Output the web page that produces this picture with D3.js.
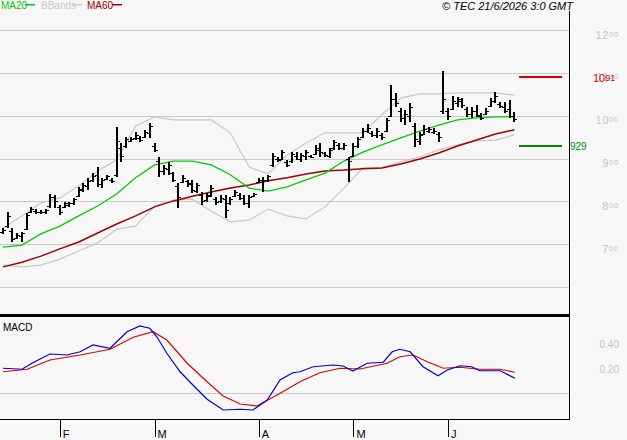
<!DOCTYPE html>
<html>
<head>
<meta charset="utf-8">
<script src="https://cdn.jsdelivr.net/npm/d3@7"></script>
<style>
  body { margin: 0; background: #f7f7f7; }
  svg { display: block; font-family: "Liberation Sans", Arial, sans-serif; }
</style>
</head>
<body>
<div id="chart"></div>
<script>
// daily bars, one per trading day (index 0 = mid January)
const highs = [738,775,738,726,729,773,787,782,780,782,
  817,815,791,798,798,808,833,843,854,866,
  880,854,862,854,974,936,950,950,962,953,
  967,983,936,904,885,892,869,843,862,850,
  850,843,822,820,838,810,815,815,810,827,
  820,815,815,820,854,857,862,913,904,920,
  897,915,915,913,920,908,932,936,915,925,
  943,936,936,904,936,950,971,980,964,971,
  960,995,1072,1053,1018,1013,1030,983,962,978,
  974,971,962,1104,1018,1046,1044,1041,1020,1020,
  1025,1006,1018,1041,1055,1032,1032,1037,1009];
const lows = [724,738,705,712,705,733,773,770,770,770,
  784,784,768,784,787,791,810,822,827,845,
  834,831,850,843,857,892,925,939,943,939,
  948,948,915,857,862,862,845,784,843,834,
  820,820,792,799,810,792,796,761,792,810,
  803,792,784,810,843,822,845,880,892,897,
  880,890,897,892,897,901,908,904,904,901,
  920,920,920,845,904,925,948,960,950,948,
  943,962,997,1020,985,978,985,927,932,955,
  960,957,939,1004,990,1013,1020,1018,997,995,
  997,990,1002,1020,1030,1018,1006,995,985];
const opens = [728,742,730,715,720,735,776,778,774,775,
  788,810,786,787,792,795,812,826,835,850,
  862,840,853,850,862,925,930,942,948,948,
  950,960,930,895,870,875,865,835,845,848,
  842,825,815,802,815,805,800,805,795,812,
  815,808,795,812,845,845,850,885,900,900,
  892,893,905,898,905,905,910,920,912,905,
  925,932,925,900,905,930,950,965,960,955,
  955,965,1000,1040,1010,995,1000,975,940,958,
  965,962,958,1010,1010,1015,1030,1035,1015,1005,
  1010,1000,1005,1022,1035,1028,1020,1015,1000];
const closes = [732,765,712,722,725,768,782,775,776,779,
  810,800,775,795,796,805,828,838,848,860,
  840,850,858,847,940,905,945,946,955,944,
  962,975,920,870,878,885,850,810,855,840,
  826,838,800,812,832,798,808,780,805,822,
  808,797,810,818,850,850,858,905,896,915,
  885,910,900,908,915,903,925,915,908,920,
  938,925,932,895,930,945,965,972,955,965,
  950,990,1040,1030,995,1005,1020,945,955,970,
  968,965,950,1040,1000,1035,1038,1025,1005,1012,
  1002,995,1012,1035,1045,1022,1010,1000,992];

// price indicator lines, read every 4th bar
const lineIdx = [0,4,8,12,16,20,24,28,32,36,40,44,48,52,56,60,64,68,72,76,80,84,88,92,96,100,104,108];
const ma20 = [693,698,724,742,766,789,817,855,885,894,894,885,862,831,824,834,850,866,894,915,932,948,964,978,990,995,997,997];
const ma60 = [647,658,672,689,705,726,747,766,787,801,812,822,831,838,848,855,864,871,873,876,878,887,899,913,929,943,957,967];
const bbUpper = [738,766,796,808,836,871,897,976,997,990,990,990,960,880,864,908,936,960,960,960,1002,1041,1051,1051,1053,1053,1053,1048];
const bbLower = [651,647,651,665,684,703,735,742,789,803,805,777,752,756,782,766,759,787,831,878,878,892,904,920,932,941,943,955];

// MACD and signal, read at the bar positions where the line turns
const macdIdx = [0,4,6.3,9.9,13.5,16.3,19,22.6,26.2,28.9,31,32.5,34.6,37.4,40.1,43.1,46.5,50.1,52.8,55.8,58.5,61.2,62.7,65.5,69.7,71.8,73.9,76.9,80.3,82.2,83.8,86,88.7,91.9,93.8,96.5,99,100.7,105,108.1];
const macd = [0.198,0.19,0.242,0.312,0.304,0.33,0.384,0.358,0.49,0.536,0.518,0.45,0.318,0.17,0.064,-0.05,-0.136,-0.13,-0.136,-0.056,0.104,0.162,0.17,0.21,0.224,0.216,0.176,0.238,0.246,0.33,0.35,0.33,0.21,0.138,0.184,0.218,0.21,0.178,0.178,0.118];
const signalIdx = [0,5.1,9.9,16.3,22.6,27.5,31.7,34.6,38.9,43.1,46.5,50.1,53.6,57.9,62.7,66.9,71.2,75.4,81.1,83.8,86.6,89.6,93,96.5,100.7,105,108.1];
const signal = [0.17,0.19,0.264,0.304,0.35,0.446,0.49,0.424,0.238,0.09,-0.024,-0.088,-0.104,-0.016,0.09,0.162,0.198,0.192,0.238,0.29,0.304,0.25,0.198,0.206,0.19,0.19,0.166];

// axes
const gridValues = [600,700,800,900,1000,1100,1200];
const priceLabels = [700,800,900,1000,1100,1200];
const macdLabels = [0.2,0.4];
const monthIdx = [12,32,54,74,94];
const monthLabels = ["F","M","A","M","J"];

// resistance / support
const resistance = 1091;
const support = 929;

const W = 627, H = 440;
const plotRight = 569;

const svg = d3.select("#chart").append("svg").attr("width", W).attr("height", H);
svg.append("rect").attr("width", W).attr("height", H).attr("fill", "#f7f7f7");

const x = d3.scaleLinear().domain([0, 108]).range([3, 514.4]);
const y = d3.scaleLinear().domain([600, 1200]).range([287, 30]);
const ym = d3.scaleLinear().domain([0, 0.4]).range([393, 343]);

// price grid lines
const grid = svg.append("g")
  .call(d3.axisLeft(y).tickValues(gridValues).tickSize(-plotRight).tickFormat(""));
grid.select(".domain").remove();
grid.selectAll("line").attr("stroke", "#c8c8c8").attr("shape-rendering", "crispEdges");

// price labels on the right, last two digits smaller
const yAxis = svg.append("g").attr("transform", "translate(619,0)")
  .call(d3.axisRight(y).tickValues(priceLabels).tickSize(0));
yAxis.select(".domain").remove();
yAxis.selectAll("text").each(function (d) {
  const s = String(d);
  const t = d3.select(this).text("")
    .attr("x", 0).attr("dy", null).attr("y", 8)
    .attr("text-anchor", "end").attr("fill", "#c4c4c4")
    .attr("font-size", 11).attr("letter-spacing", 0.6)
    .attr("font-family", "Liberation Sans, Arial, sans-serif");
  t.append("tspan").text(s.slice(0, s.length - 2));
  t.append("tspan").attr("font-size", 8).attr("dy", -2).text(s.slice(-2));
});

// bollinger bands and moving averages
const line = d3.line().x((d, k) => x(lineIdx[k])).y(d => y(d));
[bbUpper, bbLower].forEach(arr => {
  svg.append("path").datum(arr).attr("d", line)
    .attr("fill", "none").attr("stroke", "#c8c8c8").attr("stroke-width", 1.2);
});
svg.append("path").datum(ma60).attr("d", line)
  .attr("fill", "none").attr("stroke", "#a00000").attr("stroke-width", 1.5);
svg.append("path").datum(ma20).attr("d", line)
  .attr("fill", "none").attr("stroke", "#00cc00").attr("stroke-width", 1.3);

// OHLC bars
const bars = svg.append("g").attr("fill", "#000").attr("shape-rendering", "crispEdges");
highs.forEach((h, i) => {
  const cx = Math.round(x(i));
  bars.append("rect").attr("x", cx - 1).attr("width", 2)
    .attr("y", Math.round(y(h))).attr("height", Math.max(2, Math.round(y(lows[i]) - y(h))));
  bars.append("rect").attr("x", cx - 3).attr("width", 2)
    .attr("y", Math.round(y(opens[i]))).attr("height", 1);
  bars.append("rect").attr("x", cx + 1).attr("width", 2)
    .attr("y", Math.round(y(closes[i]))).attr("height", 1);
});

// resistance and support levels
svg.append("rect").attr("x", 519).attr("width", 43)
  .attr("y", Math.round(y(resistance)) - 1).attr("height", 2).attr("fill", "#dd0000");
svg.append("rect").attr("x", 519).attr("width", 43)
  .attr("y", Math.round(y(support)) - 1).attr("height", 2).attr("fill", "#008c00");
const resText = svg.append("text").attr("x", 593).attr("y", y(resistance) + 5)
  .attr("fill", "#dd0000").attr("font-size", 11);
resText.append("tspan").text(String(resistance).slice(0, 2));
resText.append("tspan").attr("font-size", 9).attr("dy", -1).text(String(resistance).slice(2));
svg.append("text").attr("x", 570).attr("y", y(support) + 4)
  .attr("fill", "#008c00").attr("font-size", 10).text(support);

// MACD panel
svg.append("line").attr("x1", 0).attr("x2", plotRight).attr("y1", ym(0)).attr("y2", ym(0))
  .attr("stroke", "#c8c8c8").attr("shape-rendering", "crispEdges");
svg.append("path").datum(signal)
  .attr("d", d3.line().x((d, k) => x(signalIdx[k])).y(d => ym(d)))
  .attr("fill", "none").attr("stroke", "#dd0000").attr("stroke-width", 1.2);
svg.append("path").datum(macd)
  .attr("d", d3.line().x((d, k) => x(macdIdx[k])).y(d => ym(d)))
  .attr("fill", "none").attr("stroke", "#0000cc").attr("stroke-width", 1.2);
svg.append("g").selectAll("text").data(macdLabels).join("text")
  .attr("x", 619).attr("y", d => ym(d) + 5).attr("text-anchor", "end")
  .attr("fill", "#c4c4c4").attr("font-size", 10).text(d => d.toFixed(2));
svg.append("text").attr("x", 3).attr("y", 331).attr("font-size", 10).attr("fill", "#000").text("MACD");

// frame
svg.append("rect").attr("x", 0).attr("y", 314).attr("width", plotRight + 1).attr("height", 3).attr("fill", "#000");
svg.append("rect").attr("x", 0).attr("y", 419).attr("width", plotRight + 1).attr("height", 1).attr("fill", "#000");
svg.append("rect").attr("x", plotRight).attr("y", 11).attr("width", 1).attr("height", 409).attr("fill", "#000");

// month axis
const xAxis = svg.append("g").attr("transform", "translate(0,419)")
  .call(d3.axisBottom(x).tickValues(monthIdx).tickSize(18).tickFormat((d, k) => monthLabels[k]));
xAxis.select(".domain").remove();
xAxis.selectAll("line").attr("stroke", "#000").attr("shape-rendering", "crispEdges");
xAxis.selectAll("text").attr("x", 2.5).attr("y", 19).attr("dy", null)
  .attr("text-anchor", "start").attr("fill", "#000").attr("font-size", 11)
  .attr("font-family", "Liberation Sans, Arial, sans-serif");

// legend
const legend = [
  { label: "MA20", color: "#00cc00", tx: 1, lx: 25 },
  { label: "BBands", color: "#c8c8c8", tx: 41, lx: 72 },
  { label: "MA60", color: "#a00000", tx: 87, lx: 112 }
];
legend.forEach(l => {
  svg.append("text").attr("x", l.tx).attr("y", 9).attr("font-size", 10).attr("fill", l.color).text(l.label);
  svg.append("rect").attr("x", l.lx).attr("y", 4).attr("width", 10).attr("height", 1.5).attr("fill", l.color);
});
svg.append("text").attr("x", 573).attr("y", 10).attr("text-anchor", "end")
  .attr("font-size", 11).attr("font-style", "italic").attr("fill", "#000")
  .text("© TEC 21/6/2026 3:0 GMT");
</script>
</body>
</html>
